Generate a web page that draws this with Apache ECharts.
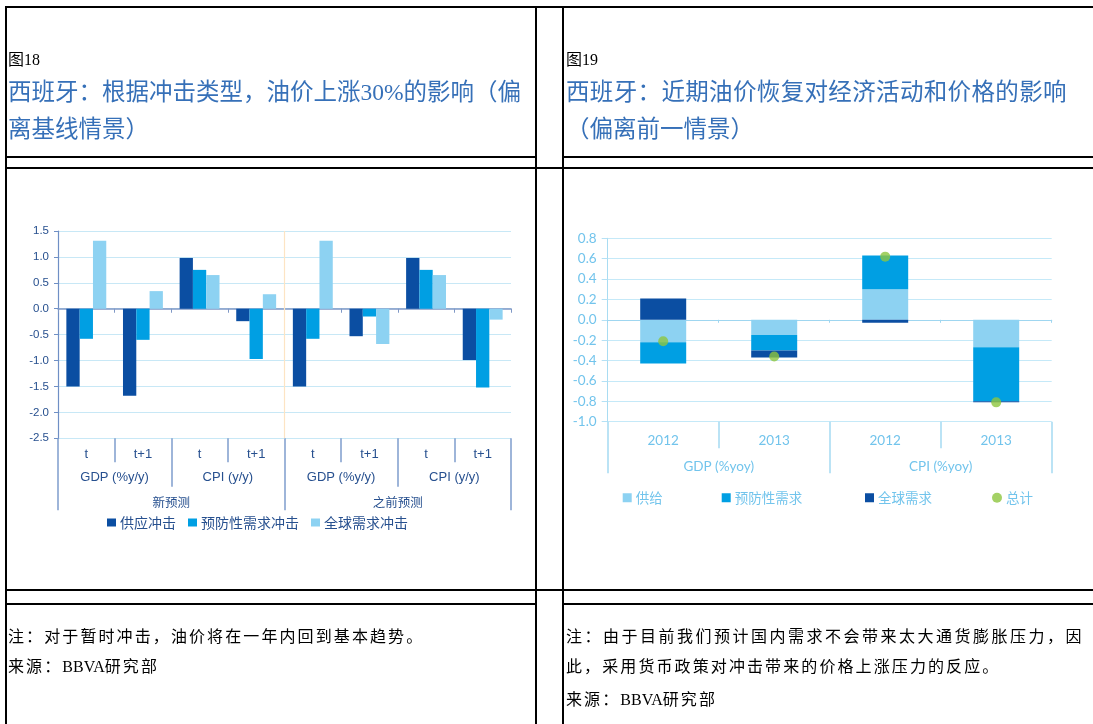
<!DOCTYPE html>
<html>
<head>
<meta charset="utf-8">
<script src="https://cdn.jsdelivr.net/npm/echarts@6/dist/echarts.min.js"></script>
<style>
html,body{margin:0;padding:0;background:#fff;width:1093px;height:724px;overflow:hidden}
#chart{position:absolute;left:0;top:0;width:1093px;height:724px}
.ln{position:absolute;background:#000}
.tx{position:absolute;white-space:nowrap;line-height:30px;height:30px}
.fig{font-family:"Liberation Serif","Noto Sans CJK SC",serif;font-size:16px;color:#000}
.ttl{font-family:"Liberation Serif","Noto Sans CJK SC",serif;font-size:23.5px;color:#3670b8}
.note{font-family:"Liberation Serif","Noto Sans CJK SC",serif;font-size:16px;color:#000;letter-spacing:2.1px}
.note .lat{letter-spacing:0;font-family:"Liberation Serif",serif}
</style>
</head>
<body>
<div id="chart"></div>

<!-- table rules -->
<div class="ln" style="left:5px;top:6px;width:1088px;height:2px"></div>
<div class="ln" style="left:5px;top:6px;width:2px;height:718px"></div>
<div class="ln" style="left:535px;top:6px;width:2px;height:718px"></div>
<div class="ln" style="left:562px;top:6px;width:2px;height:718px"></div>
<div class="ln" style="left:5px;top:155.5px;width:532px;height:2px"></div>
<div class="ln" style="left:562px;top:155.5px;width:531px;height:2px"></div>
<div class="ln" style="left:5px;top:167px;width:1088px;height:2px"></div>
<div class="ln" style="left:5px;top:589px;width:1088px;height:2px"></div>
<div class="ln" style="left:5px;top:603px;width:532px;height:2px"></div>
<div class="ln" style="left:562px;top:603px;width:531px;height:2px"></div>

<!-- headings -->
<div class="tx fig" style="left:8px;top:45px">图18</div>
<div class="tx ttl" style="left:8px;top:77px">西班牙：根据冲击类型，油价上涨30%的影响（偏</div>
<div class="tx ttl" style="left:8px;top:114px">离基线情景）</div>
<div class="tx fig" style="left:566px;top:45px">图19</div>
<div class="tx ttl" style="left:566px;top:77px;letter-spacing:0.35px">西班牙：近期油价恢复对经济活动和价格的影响</div>
<div class="tx ttl" style="left:566px;top:114px">（偏离前一情景）</div>

<!-- notes -->
<div class="tx note" style="left:8px;top:622px">注：对于暂时冲击，油价将在一年内回到基本趋势。</div>
<div class="tx note" style="left:8px;top:652px">来源：<span class="lat">BBVA</span>研究部</div>
<div class="tx note" style="left:566px;top:622px;letter-spacing:2.5px">注：由于目前我们预计国内需求不会带来太大通货膨胀压力，因</div>
<div class="tx note" style="left:566px;top:652px">此，采用货币政策对冲击带来的价格上涨压力的反应。</div>
<div class="tx note" style="left:566px;top:685px">来源：<span class="lat">BBVA</span>研究部</div>

<script>
// ---- Figure 18: oil price +30% by shock type ----
const periods = ['t', 't+1', 't', 't+1', 't', 't+1', 't', 't+1'];
const indicators = ['GDP (%y/y)', 'CPI (y/y)', 'GDP (%y/y)', 'CPI (y/y)'];
const scenarios = ['新预测', '之前预测'];
const supplyShock = [-1.50, -1.68, 0.98, -0.24, -1.50, -0.53, 0.98, -0.99];
const precautionShock = [-0.58, -0.60, 0.75, -0.97, -0.58, -0.15, 0.75, -1.52];
const globalShock = [1.31, 0.34, 0.65, 0.28, 1.31, -0.68, 0.65, -0.21];
const yMin1 = -2.5, yMax1 = 1.5, yStep1 = 0.5;

// ---- Figure 19: recent oil price recovery ----
const years = ['2012', '2013', '2012', '2013'];
const measures = ['GDP (%yoy)', 'CPI (%yoy)'];
const supply2 = [-0.22, -0.15, 0.30, -0.27];
const precaution2 = [-0.21, -0.15, 0.33, -0.53];
const global2 = [0.21, -0.07, -0.03, -0.01];
const total2 = [-0.21, -0.36, 0.62, -0.81];
const yMin2 = -1.0, yMax2 = 0.8, yStep2 = 0.2;

const DARK = '#0b4ea2', MID = '#009fe3', LIGHT = '#8dd2f2', GREEN = '#8dc63f';
const TXT1 = '#27508f', TXT2 = '#72c4ec';
const F1 = '"Liberation Sans", Arial, "Noto Sans CJK SC", sans-serif';
const F2 = 'Lato, "Open Sans", "Noto Sans CJK SC", sans-serif';
const SEP1 = '#7f9dcd', SEP2 = '#a5daf2';

function levelAxis(grid, data, tickLen, margin, color, font, size, fcol) {
  return {
    type: 'category', gridIndex: grid, position: 'bottom', data: data,
    axisLine: { show: false, onZero: false },
    axisTick: { show: true, length: tickLen, interval: 0, lineStyle: { color: color, width: 1.5 } },
    axisLabel: { interval: 0, margin: margin, color: fcol, fontFamily: font, fontSize: size },
    splitLine: { show: false }
  };
}

const chart = echarts.init(document.getElementById('chart'), null, { renderer: 'canvas' });

const option = {
  animation: false,
  grid: [
    { left: 58, top: 231, width: 453, height: 207.3, outerBoundsMode: 'none' },
    { left: 607.7, top: 238.3, width: 444, height: 183.4, outerBoundsMode: 'none' }
  ],
  legend: [
    { left: 107, top: 515.5, data: ['供应冲击'] },
    { left: 188, top: 515.5, data: ['预防性需求冲击'] },
    { left: 311, top: 515.5, data: ['全球需求冲击'] },
    { left: 622.7, top: 491, data: ['供给'] },
    { left: 721.7, top: 491, data: ['预防性需求'] },
    { left: 865, top: 491, data: ['全球需求'] },
    { left: 992, top: 491, data: ['总计'], icon: 'circle', itemWidth: 10, itemHeight: 10 }
  ].map(function (l, i) {
    const first = i < 3;
    return Object.assign({
      padding: 0, selectedMode: false, icon: 'rect',
      itemWidth: 9, itemHeight: first ? 8 : 9, itemGap: 0,
      textStyle: {
        color: first ? TXT1 : TXT2, fontSize: first ? 14 : 13.5,
        fontFamily: '"Noto Sans CJK SC", sans-serif', padding: [0, 0, 0, -1]
      }
    }, l);
  }),
  xAxis: [
    // 0: zero line for figure 18
    {
      type: 'category', gridIndex: 0, data: periods,
      axisLine: { onZero: true, lineStyle: { color: '#7f98c6', width: 1.5 } },
      axisTick: { show: true, length: 4, interval: 0, lineStyle: { color: '#7f98c6' } },
      axisLabel: { show: false }, splitLine: { show: false }
    },
    levelAxis(0, periods, 24, 9.5, SEP1, F1, 13, TXT1),
    levelAxis(0, indicators, 48.4, 32.5, SEP1, F1, 13, TXT1),
    levelAxis(0, scenarios, 72, 58, SEP1, '"Noto Sans CJK SC", sans-serif', 12.5, TXT1),
    // 4: continuous position axis for the scenario divider
    { type: 'value', gridIndex: 0, min: 0, max: periods.length, show: false },
    // 5: zero line for figure 19
    {
      type: 'category', gridIndex: 1, data: years,
      axisLine: { onZero: true, lineStyle: { color: '#9fd6f0', width: 1.2 } },
      axisTick: { show: true, length: 3, interval: 0, lineStyle: { color: '#9fd6f0' } },
      axisLabel: { show: false }, splitLine: { show: false }
    },
    levelAxis(1, years, 26.6, 12, SEP2, F2, 13.5, TXT2),
    levelAxis(1, measures, 51.6, 38, SEP2, F2, 13.5, TXT2)
  ],
  yAxis: [
    {
      type: 'value', gridIndex: 0, min: yMin1, max: yMax1, interval: yStep1,
      axisLine: { show: true, lineStyle: { color: '#6f8fc5', width: 1.2 } },
      axisTick: { show: true, length: 4, lineStyle: { color: '#6f8fc5' } },
      axisLabel: { margin: 9, color: TXT1, fontFamily: F1, fontSize: 11.5,
        formatter: function (v) { return v.toFixed(1); } },
      splitLine: { show: true, lineStyle: { color: '#c8e8f6', width: 1 } }
    },
    {
      type: 'value', gridIndex: 1, min: yMin2, max: yMax2, interval: yStep2,
      axisLine: { show: true, lineStyle: { color: '#a9dcf2', width: 1 } },
      axisTick: { show: true, length: 6, lineStyle: { color: '#b5e1f5' } },
      axisLabel: { margin: 11, color: TXT2, fontFamily: F2, fontSize: 13.5,
        formatter: function (v) { return v.toFixed(1); } },
      splitLine: { show: true, lineStyle: { color: '#c5e9f8', width: 1 } }
    }
  ],
  series: [
    { name: '供应冲击', type: 'bar', xAxisIndex: 0, yAxisIndex: 0, data: supplyShock,
      barWidth: 13.3, barGap: '0%', itemStyle: { color: DARK } },
    { name: '预防性需求冲击', type: 'bar', xAxisIndex: 0, yAxisIndex: 0, data: precautionShock,
      barWidth: 13.3, barGap: '0%', itemStyle: { color: MID } },
    { name: '全球需求冲击', type: 'bar', xAxisIndex: 0, yAxisIndex: 0, data: globalShock,
      barWidth: 13.3, barGap: '0%', itemStyle: { color: LIGHT } },
    { name: 'divider', type: 'line', xAxisIndex: 4, yAxisIndex: 0, silent: true, z: 1,
      data: [[periods.length / 2, yMin1], [periods.length / 2, yMax1]],
      symbol: 'none', lineStyle: { color: '#fde4c4', width: 1.2 } },

    { name: '供给', type: 'bar', xAxisIndex: 5, yAxisIndex: 1, stack: 'shock', data: supply2,
      barWidth: 46, itemStyle: { color: LIGHT } },
    { name: '预防性需求', type: 'bar', xAxisIndex: 5, yAxisIndex: 1, stack: 'shock', data: precaution2,
      barWidth: 46, itemStyle: { color: MID } },
    { name: '全球需求', type: 'bar', xAxisIndex: 5, yAxisIndex: 1, stack: 'shock', data: global2,
      barWidth: 46, itemStyle: { color: DARK } },
    { name: '总计', type: 'scatter', xAxisIndex: 5, yAxisIndex: 1, data: total2, z: 5,
      symbol: 'circle', symbolSize: 10, itemStyle: { color: GREEN } }
  ]
};
chart.setOption(option);
</script>
</body>
</html>
